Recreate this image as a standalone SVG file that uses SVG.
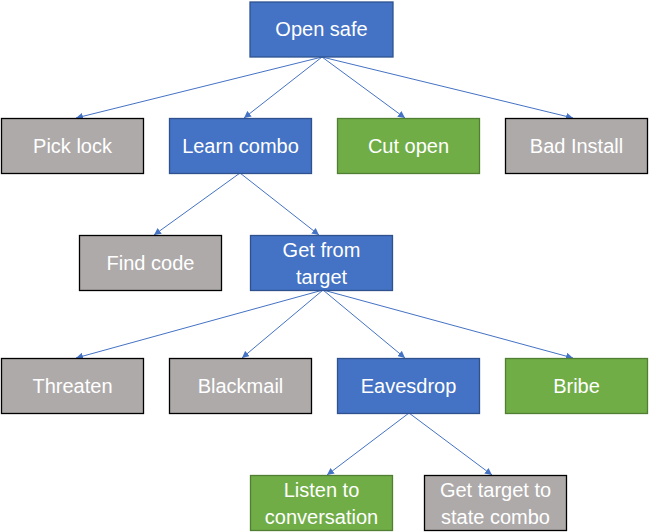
<svg xmlns="http://www.w3.org/2000/svg" width="649" height="532" viewBox="0 0 649 532">
<defs>
<style>
.b{fill:#4472C4;stroke:#2F528F;stroke-width:1.3}
.g{fill:#AEAAAA;stroke:#000;stroke-width:1.3}
.gr{fill:#70AD47;stroke:#507E32;stroke-width:1.3}
text{font-family:"Liberation Sans",Arial,sans-serif;font-size:20px;fill:#fff;text-anchor:middle}
.c line{stroke:#4472C4;stroke-width:1;marker-end:url(#a)}
</style>
<marker id="a" viewBox="0 0 10 10" refX="10" refY="5" markerWidth="7" markerHeight="7" orient="auto" markerUnits="userSpaceOnUse">
<path d="M0,0L10,5L0,10z" fill="#4472C4"/>
</marker>
</defs>
<rect width="649" height="532" fill="#fff"/>
<g class="c" id="connectors">
<line x1="322" y1="57" x2="76" y2="118"/>
<line x1="322" y1="57" x2="244" y2="118"/>
<line x1="322" y1="57" x2="405" y2="118"/>
<line x1="322" y1="57" x2="573" y2="118"/>
<line x1="240" y1="173" x2="154" y2="235"/>
<line x1="240" y1="173" x2="319" y2="235"/>
<line x1="323" y1="290" x2="76" y2="358"/>
<line x1="323" y1="290" x2="242" y2="358"/>
<line x1="323" y1="290" x2="405" y2="358"/>
<line x1="323" y1="290" x2="573" y2="358"/>
<line x1="409" y1="413" x2="327" y2="475"/>
<line x1="409" y1="413" x2="492" y2="475"/>
</g>
<g id="open-safe"><rect class="b" x="250" y="2" width="143" height="55"/><text x="321.5" y="36">Open safe</text></g>
<g id="pick-lock"><rect class="g" x="1.5" y="118.5" width="142" height="55"/><text x="72.5" y="153">Pick lock</text></g>
<g id="learn-combo"><rect class="b" x="169.5" y="118.5" width="142" height="55"/><text x="240.5" y="153">Learn combo</text></g>
<g id="cut-open"><rect class="gr" x="337.5" y="118.5" width="142" height="55"/><text x="408.5" y="153">Cut open</text></g>
<g id="bad-install"><rect class="g" x="505.5" y="118.5" width="142" height="55"/><text x="576.5" y="153">Bad Install</text></g>
<g id="find-code"><rect class="g" x="79.5" y="235.5" width="142" height="55"/><text x="150.5" y="270">Find code</text></g>
<g id="get-from-target"><rect class="b" x="250.5" y="235.5" width="142" height="55"/><text x="321.5" y="257">Get from</text><text x="321.5" y="284">target</text></g>
<g id="threaten"><rect class="g" x="1.5" y="358.5" width="142" height="55"/><text x="72.5" y="393">Threaten</text></g>
<g id="blackmail"><rect class="g" x="169.5" y="358.5" width="142" height="55"/><text x="240.5" y="393">Blackmail</text></g>
<g id="eavesdrop"><rect class="b" x="337.5" y="358.5" width="142" height="55"/><text x="408.5" y="393">Eavesdrop</text></g>
<g id="bribe"><rect class="gr" x="505.5" y="358.5" width="142" height="55"/><text x="576.5" y="393">Bribe</text></g>
<g id="listen"><rect class="gr" x="250.5" y="475.5" width="142" height="55"/><text x="321.5" y="497">Listen to</text><text x="321.5" y="524">conversation</text></g>
<g id="get-target"><rect class="g" x="424.5" y="475.5" width="142" height="55"/><text x="495.5" y="497">Get target to</text><text x="495.5" y="524">state combo</text></g>
</svg>
